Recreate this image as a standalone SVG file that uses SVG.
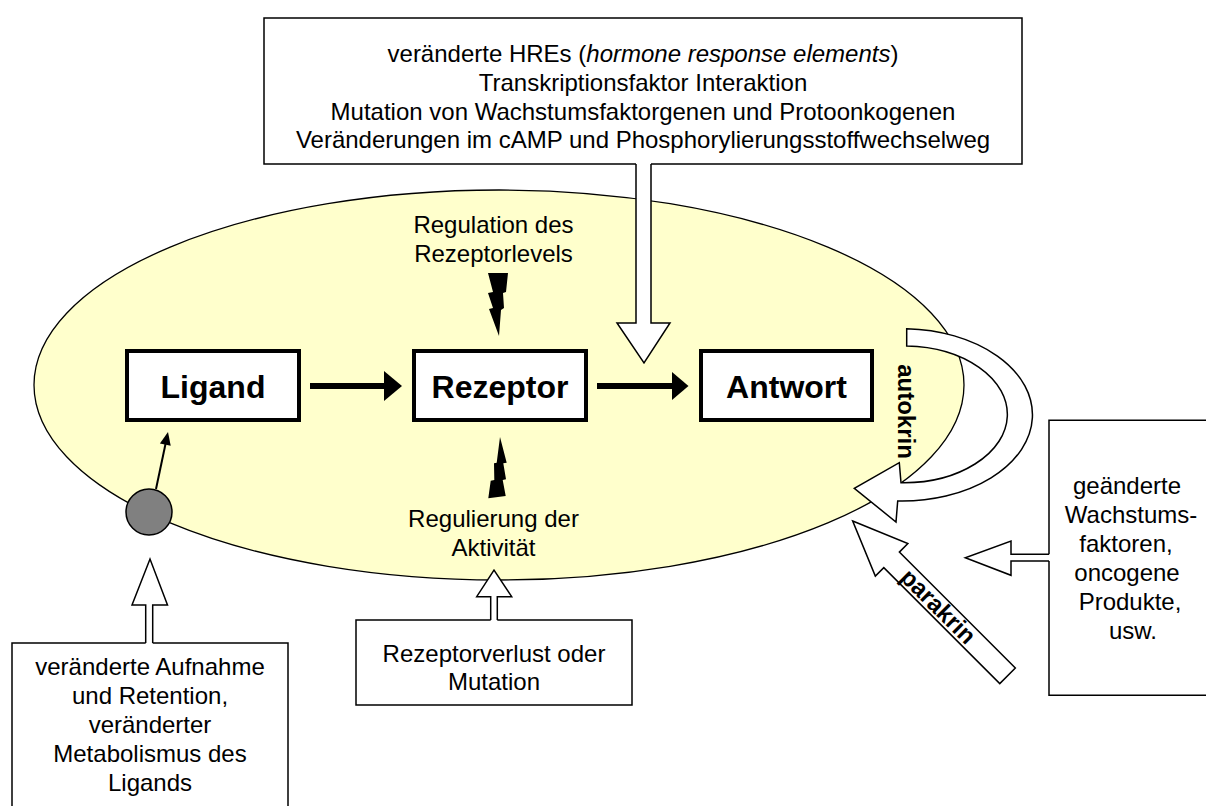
<svg xmlns="http://www.w3.org/2000/svg" width="1206" height="806" viewBox="0 0 1206 806">
<style>
text{font-family:"Liberation Sans",Arial,sans-serif;fill:#000}
.t{font-size:24px;text-anchor:middle}
.b{font-size:32px;font-weight:bold;text-anchor:middle}
.lbl{font-size:24px;font-weight:bold;text-anchor:middle}
.box{fill:#fff;stroke:#000;stroke-width:4}
.thin{fill:#fff;stroke:#000;stroke-width:1.5;stroke-linejoin:miter}
.blk{fill:#000;stroke:none}
</style>
<rect width="1206" height="806" fill="#fff"/>
<g id="cell"><ellipse cx="499" cy="385" rx="465" ry="195" fill="#FFFFCC" stroke="#000" stroke-width="1.3"/></g>
<g id="connectors">
  <path class="thin" d="M636,164 V323 H617 L644,363 L670,323 H651 V164"/>
  <path class="thin" d="M145.7,643 V605 H132 L150,559 L167.5,605 H152.7 V643"/>
  <path class="thin" d="M490.7,620 V596.7 H476.7 L494,570 L511.7,596.7 H497.3 V620"/>
  <path class="thin" d="M1049,554.3 H1011 V541 L965.3,557.7 L1011,575.3 V561 H1049"/>
  <line x1="310" y1="386" x2="386" y2="386" stroke="#000" stroke-width="6"/>
  <polygon class="blk" points="384,371 402,386 384,401"/>
  <line x1="597" y1="386" x2="674" y2="386" stroke="#000" stroke-width="6"/>
  <polygon class="blk" points="672,372 688.5,386 672,400"/>
  <line x1="156" y1="489" x2="165.5" y2="444" stroke="#000" stroke-width="2"/>
  <polygon class="blk" points="168,432 170.7,445.8 159.9,443.6"/>
  <polygon class="blk" points="488,273 508,273 506,292 503,293 504,308 501,310 499,336 489,309 493,308 488,293 493,292"/>
  <polygon class="blk" points="500,437 506.7,462.7 503.3,463.3 506,479.3 502.7,480 505.7,496 488.3,498.3 490.7,480.7 494.3,480 494,463.3 496.7,462.7"/>
  <g id="autokrin">
    <path class="thin" d="M906.7,328.7 A130,86 0 0 1 897.7,501 L896,522 L854.3,488.3 L899.3,462.7 L901,482.7 A103,68 0 0 0 906.7,346 Z"/>
    <text class="lbl" transform="translate(898,411.5) rotate(90)">autokrin</text>
  </g>
  <g id="parakrin" transform="translate(852.7,521) rotate(45)">
    <polygon class="thin" points="0,0 55,-23 55,-11 219,-11 219,11 55,11 55,23"/>
    <text class="lbl" x="121" y="8">parakrin</text>
  </g>
</g>
<g id="ligand"><rect class="box" x="127" y="351" width="172" height="69"/><text class="b" x="213" y="398">Ligand</text></g>
<g id="rezeptor"><rect class="box" x="414" y="351" width="172" height="69"/><text class="b" x="500" y="398">Rezeptor</text></g>
<g id="antwort"><rect class="box" x="701" y="351" width="171" height="69"/><text class="b" x="786.5" y="398">Antwort</text></g>
<g id="carrier"><circle cx="149" cy="512" r="23" fill="#808080" stroke="#000" stroke-width="1.5"/></g>
<g id="regulation-level"><text class="t" x="493.5" y="233">Regulation des</text><text class="t" x="493.5" y="261.5">Rezeptorlevels</text></g>
<g id="regulation-activity"><text class="t" x="493.5" y="526.5">Regulierung der</text><text class="t" x="493.5" y="556">Aktivität</text></g>
<g id="top-box">
  <path class="thin" d="M636,164 H264 V18 H1022 V164 H651"/>
  <text class="t" x="643" y="62">veränderte HREs (<tspan font-style="italic">hormone response elements</tspan>)</text>
  <text class="t" x="643" y="91">Transkriptionsfaktor Interaktion</text>
  <text class="t" x="643" y="120">Mutation von Wachstumsfaktorgenen und Protoonkogenen</text>
  <text class="t" x="643" y="148">Veränderungen im cAMP und Phosphorylierungsstoffwechselweg</text>
</g>
<g id="left-box">
  <path class="thin" d="M145.7,643 H12 V830 H288 V643 H152.7"/>
  <text class="t" x="150" y="675">veränderte Aufnahme</text>
  <text class="t" x="150" y="704">und Retention,</text>
  <text class="t" x="150" y="733">veränderter</text>
  <text class="t" x="150" y="762">Metabolismus des</text>
  <text class="t" x="150" y="791">Ligands</text>
</g>
<g id="middle-box">
  <path class="thin" d="M490.7,620 H356 V705 H632 V620 H497.3"/>
  <text class="t" x="494" y="661.5">Rezeptorverlust oder</text>
  <text class="t" x="494" y="690">Mutation</text>
</g>
<g id="right-box">
  <path class="thin" d="M1049,554.3 V420.3 H1210 V695.3 H1049 V561"/>
  <text class="t" x="1127" y="494">geänderte</text>
  <text class="t" x="1131" y="523">Wachstums-</text>
  <text class="t" x="1126" y="552">faktoren,</text>
  <text class="t" x="1127" y="581">oncogene</text>
  <text class="t" x="1130" y="610">Produkte,</text>
  <text class="t" x="1133" y="639">usw.</text>
</g>
</svg>
